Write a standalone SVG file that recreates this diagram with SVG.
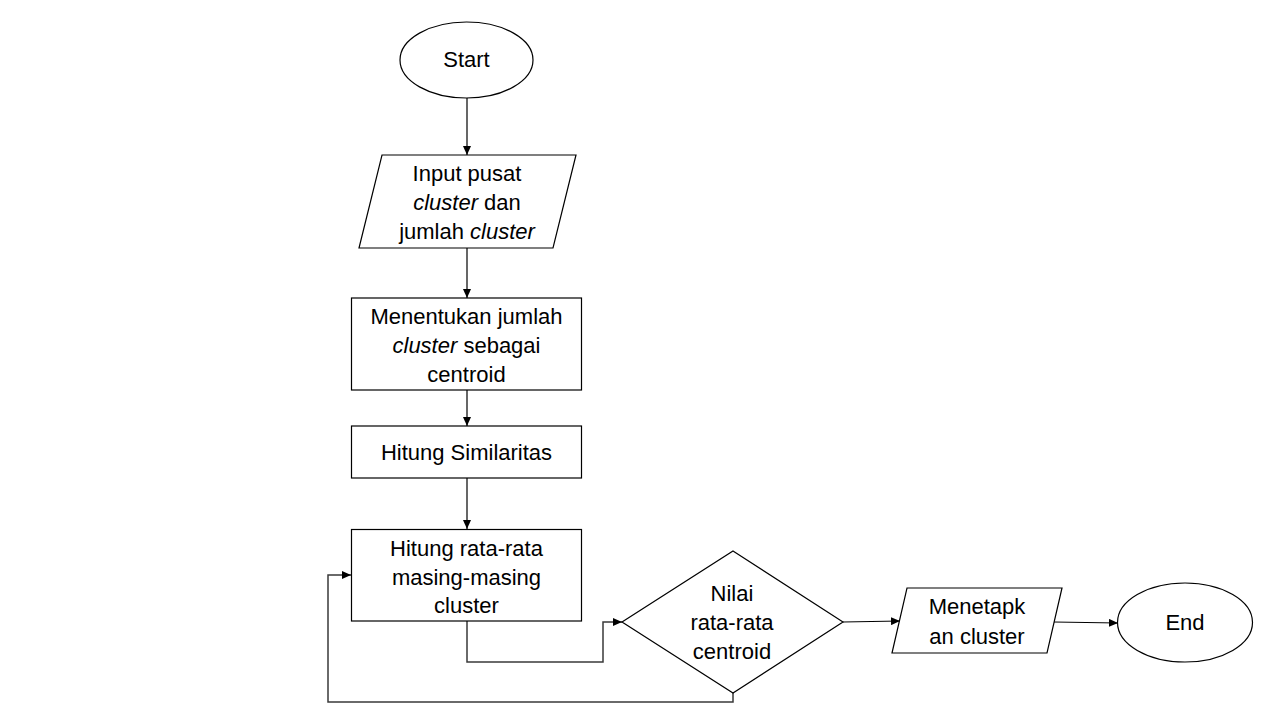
<svg xmlns="http://www.w3.org/2000/svg" width="1280" height="720" viewBox="0 0 1280 720">
<style>
.shape{fill:#fff;stroke:#000;stroke-width:1.2}
.t{font-family:"Liberation Sans",Arial,sans-serif;font-size:22px;fill:#000;text-anchor:middle}
.i{font-style:italic}
.c{fill:none;stroke:#000;stroke-width:1.2}
.c2{fill:none;stroke:#3a3a3a;stroke-width:1.5}
</style>
<defs>
<marker id="ah" markerWidth="9" markerHeight="8" refX="9" refY="4" orient="auto" markerUnits="userSpaceOnUse">
<path d="M0,0 L9,4 L0,8 Z" fill="#000"/>
</marker>
</defs>
<rect width="1280" height="720" fill="#fff"/>
<g id="connectors">
<line class="c" x1="467" y1="98" x2="467" y2="155" marker-end="url(#ah)"/>
<line class="c" x1="467" y1="248" x2="467" y2="298" marker-end="url(#ah)"/>
<line class="c" x1="467" y1="390" x2="467" y2="426" marker-end="url(#ah)"/>
<line class="c" x1="467" y1="478" x2="467" y2="529" marker-end="url(#ah)"/>
<polyline class="c2" points="467,621 467,662 603,662 603,622 622,622" marker-end="url(#ah)"/>
<polyline class="c2" points="733,693 733,702 328,702 328,575 351,575" marker-end="url(#ah)"/>
<line class="c" x1="843" y1="622" x2="900" y2="621" marker-end="url(#ah)"/>
<line class="c" x1="1054" y1="622" x2="1118" y2="623" marker-end="url(#ah)"/>
</g>
<g id="start">
<ellipse class="shape" cx="466.5" cy="60" rx="66.5" ry="38"/>
<text class="t" x="466.5" y="67">Start</text>
</g>
<g id="input">
<polygon class="shape" points="382,155 576,155 553,248 359,248"/>
<text class="t" x="467" y="181">Input pusat</text>
<text class="t" x="467" y="210"><tspan class="i">cluster</tspan> dan</text>
<text class="t" x="467" y="239">jumlah <tspan class="i">cluster</tspan></text>
</g>
<g id="tentukan">
<rect class="shape" x="351.5" y="298" width="230" height="92"/>
<text class="t" x="466.5" y="324">Menentukan jumlah</text>
<text class="t" x="466.5" y="353"><tspan class="i">cluster</tspan> sebagai</text>
<text class="t" x="466.5" y="382">centroid</text>
</g>
<g id="similaritas">
<rect class="shape" x="351.5" y="426" width="230" height="52"/>
<text class="t" x="466.5" y="460">Hitung Similaritas</text>
</g>
<g id="ratarata">
<rect class="shape" x="351.5" y="529.5" width="230" height="91.5"/>
<text class="t" x="466.5" y="556">Hitung rata-rata</text>
<text class="t" x="466.5" y="585">masing-masing</text>
<text class="t" x="466.5" y="613">cluster</text>
</g>
<g id="decision">
<polygon class="shape" points="733,551 843,622 733,693 622,622"/>
<text class="t" x="732" y="601">Nilai</text>
<text class="t" x="732" y="630">rata-rata</text>
<text class="t" x="732" y="659">centroid</text>
</g>
<g id="menetapkan">
<polygon class="shape" points="907,588 1062,588 1047,653 892,653"/>
<text class="t" x="977" y="614">Menetapk</text>
<text class="t" x="977" y="644">an cluster</text>
</g>
<g id="end">
<ellipse class="shape" cx="1185" cy="622.5" rx="67.5" ry="39.5"/>
<text class="t" x="1185" y="630">End</text>
</g>
</svg>
